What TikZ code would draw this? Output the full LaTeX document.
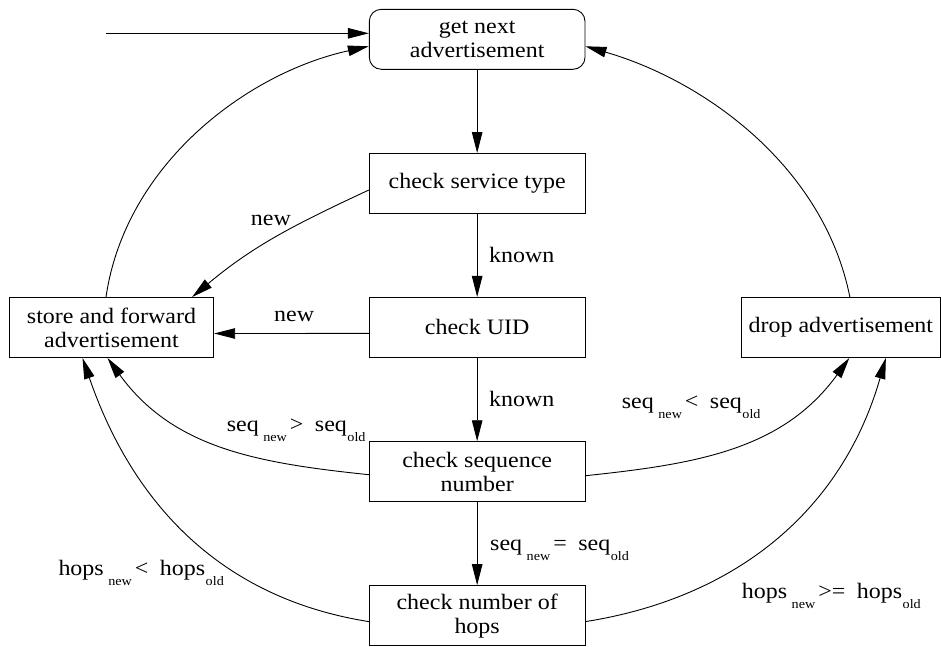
\documentclass[tikz,border=0pt]{standalone}
\usepackage{fontspec}
\setmainfont{Liberation Serif}[FakeStretch=1.09]
\usetikzlibrary{arrows.meta}

% lowered index word, e.g. "new" / "old"
\newcommand\lowidx[1]{\raisebox{-10pt}{\fontsize{13}{13}\selectfont #1}}
% comparison label: word_new <op> word_old
\newcommand\cmpr[2]{#1\hspace{4.5pt}\lowidx{new}\hspace{3pt}#2\hspace{11.5pt}#1\hspace{0.5pt}\lowidx{old}}

\begin{document}
\begin{tikzpicture}[x=1pt, y=-1pt,
  every node/.style={font=\fontsize{22}{24}\selectfont},
  box/.style={draw, line width=0.9pt, minimum width=215.7pt, minimum height=60pt,
              inner sep=0pt, align=center},
  lbl/.style={anchor=base west, inner sep=0pt},
  arr/.style={line width=0.9pt, -{Triangle[length=21pt,width=10.5pt]}},
]
\useasboundingbox (0,0) rectangle (941,646);

% process boxes
\node[box, rounded corners=12pt] (getnext) at (477.15,39.3) {get next\\advertisement};
\node[box] (svc)  at (477.15,183.5) {check service type};
\node[box] (uid)  at (477.15,327.4) {check UID};
\node[box] (seq)  at (477.15,471.7) {check sequence\\number};
\node[box] (hops) at (477.15,615.6) {check number of\\hops};
\node[box, minimum width=204.4pt] (store) at (111.5,327.5) {store and forward\\advertisement};
\node[box, minimum width=198.3pt] (drop)  at (840.85,327.5) {drop advertisement};

\coordinate (entry) at (106,33.3);

% main chain
\draw[arr] (entry) -- ([yshift=6pt]getnext.west);
\draw[arr] (getnext) -- (svc);
\draw[arr] (svc) -- (uid);
\draw[arr] (uid) -- (seq);
\draw[arr] (seq) -- (hops);
\draw[arr] ([yshift=-6pt]uid.west) -- ([yshift=-6pt]store.east);

% loops back to the start
\draw[arr] ([xshift=-5.5pt]store.north) .. controls (125.3,164.4) and (246.8,73) .. ([yshift=-7pt]getnext.west);
\draw[arr] ([xshift=9pt]drop.north) .. controls (824,167.4) and (706,81.2) .. ([yshift=-7pt]getnext.east);

% branches
\draw[arr] ([yshift=-6.5pt]svc.west) to[out=205,in=40] ([xshift=-22pt]store.north east);
\draw[arr] ([yshift=-3pt]seq.west) to[out=174,in=306] ([xshift=-4pt]store.south);
\draw[arr] ([yshift=-6pt]hops.west) to[out=171,in=289] ([xshift=-29pt]store.south);
\draw[arr] ([yshift=-4pt]seq.east) to[out=6,in=234] ([xshift=8.5pt]drop.south);
\draw[arr] ([yshift=-6pt]hops.east) to[out=9,in=254] ([xshift=45pt]drop.south);

% labels
\node[lbl] (l1) at (250.7,225) {new};
\node[lbl] (l2) at (489,262) {known};
\node[lbl] (l3) at (274,321.7) {new};
\node[lbl] (l4) at (489,406) {known};
\node[lbl] (l5) at (226.7,431.7) {\cmpr{seq}{>}};
\node[lbl] (l6) at (621.7,408) {\cmpr{seq}{<}};
\node[lbl] (l7) at (490,550) {\cmpr{seq}{=}};
\node[lbl] (l8) at (58.3,575) {\cmpr{hops}{<}};
\node[lbl] (l9) at (741.7,598.3) {\cmpr{hops}{>=}};
\end{tikzpicture}
\end{document}
